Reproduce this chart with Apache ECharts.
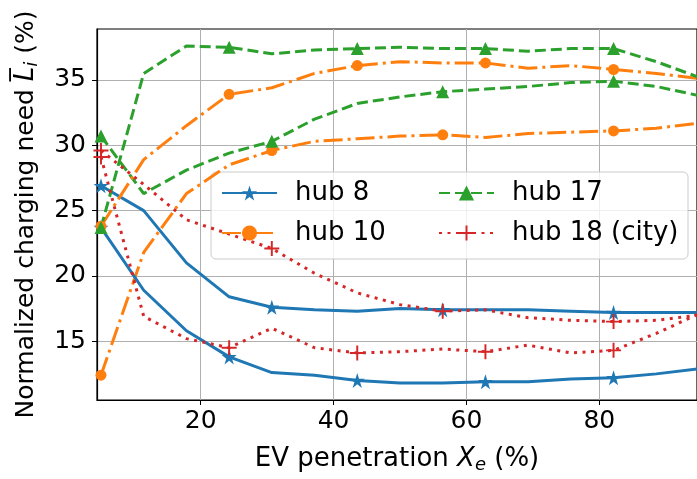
<!DOCTYPE html>
<html>
<head>
<meta charset="utf-8">
<title>Normalized charging need vs EV penetration</title>
<script src="https://cdn.jsdelivr.net/npm/echarts@6/dist/echarts.min.js"></script>
<style>
	html, body { margin: 0; padding: 0; background: #fff; }
	#chart { width: 697px; height: 479px; }
</style>
</head>
<body>
<div id="chart"></div>
<script>
'use strict';

// EV penetration X_e (%), the same steps for every curve
var penetration = [5, 11.43, 17.86, 24.29, 30.71, 37.14, 43.57, 50, 56.43, 62.86, 69.29, 75.71, 82.14, 88.57, 95];

// two curves per hub
var hub8_a  = [26.9, 25.0, 21.0, 18.4, 17.6, 17.4, 17.3, 17.5, 17.4, 17.4, 17.4, 17.3, 17.2, 17.2, 17.2];
var hub8_b  = [23.7, 18.9, 15.8, 13.8, 12.6, 12.4, 12.0, 11.8, 11.8, 11.9, 11.9, 12.1, 12.2, 12.5, 12.9];
var hub10_a = [12.4, 21.8, 26.3, 28.5, 29.6, 30.3, 30.5, 30.7, 30.8, 30.6, 30.9, 31.0, 31.1, 31.3, 31.7];
var hub10_b = [23.8, 28.9, 31.5, 33.9, 34.4, 35.5, 36.1, 36.4, 36.3, 36.3, 35.9, 36.1, 35.8, 35.5, 35.1];
var hub17_a = [30.7, 26.3, 28.1, 29.4, 30.3, 32.0, 33.2, 33.7, 34.1, 34.3, 34.5, 34.8, 34.9, 34.5, 33.8];
var hub17_b = [23.7, 35.5, 37.6, 37.5, 37.0, 37.3, 37.4, 37.5, 37.4, 37.4, 37.2, 37.4, 37.4, 36.4, 35.2];
var hub18_a = [29.6, 27.0, 24.3, 23.2, 22.1, 20.2, 18.7, 17.8, 17.3, 17.4, 16.8, 16.6, 16.5, 16.6, 17.0];
var hub18_b = [29.1, 16.9, 15.2, 14.5, 16.0, 14.5, 14.1, 14.2, 14.4, 14.2, 14.7, 14.1, 14.3, 15.6, 17.1];

var xTicks = [20, 40, 60, 80];
var yTicks = [15, 20, 25, 30, 35];
var legendLeft = ['hub 8', 'hub 10'];
var legendRight = ['hub 17', 'hub 18 (city)'];

var FONT = 'DejaVu Sans';
var STAR = 'path://M100,0L122.45,69.1L195.1,69.1L136.3,111.8L158.8,180.9L100,138.2L41.2,180.9L63.7,111.8L4.9,69.1L77.55,69.1Z';
var PLUS = 'path://M-1.3,-10H1.3V-1.3H10V1.3H1.3V10H-1.3V1.3H-10V-1.3H-1.3Z';

var looks = {
	'hub 8':         { color: '#1f77b4', dash: 'solid',       symbol: STAR,       size: 15 },
	'hub 10':        { color: '#ff7f0e', dash: [19, 5, 3, 5], symbol: 'circle',   size: 11 },
	'hub 17':        { color: '#2ca02c', dash: [11, 5],       symbol: 'triangle', size: 13 },
	'hub 18 (city)': { color: '#d62728', dash: [3, 5.5],      symbol: PLUS,       size: 15 }
};

// markers only on every 3rd or 4th point, like markevery
function curve(name, values, every) {
	var look = looks[name];
	return {
		type: 'line',
		name: name,
		data: values.map(function (v, i) {
			return { value: [penetration[i], v], symbol: i % every === 0 ? look.symbol : 'none' };
		}),
		symbol: look.symbol,
		symbolSize: look.size,
		showSymbol: true,
		itemStyle: { color: look.color },
		lineStyle: { color: look.color, width: 3, type: look.dash },
		emphasis: { disabled: true },
		silent: true,
		clip: true
	};
}

function legendAt(left, names) {
	return {
		data: names,
		orient: 'vertical',
		left: left,
		top: 179,
		padding: 0,
		itemGap: 12,
		itemWidth: 55,
		itemHeight: 19,
		selectedMode: false,
		textStyle: { fontFamily: FONT, fontSize: 26, color: '#000', lineHeight: 28, padding: [0, 0, 0, 13] }
	};
}

var nameRich = {
	it: { fontFamily: FONT, fontSize: 26, fontStyle: 'italic', color: '#000' },
	sub: { fontFamily: FONT, fontSize: 18, fontStyle: 'italic', color: '#000', padding: [11, 0, 0, 0] }
};

var chart = echarts.init(document.getElementById('chart'), null, { renderer: 'canvas' });

chart.setOption({
	animation: false,
	backgroundColor: '#fff',
	grid: { left: 97, right: -2, top: 29, bottom: 79, show: true, borderColor: '#000', borderWidth: 1.2 },
	xAxis: {
		type: 'value',
		min: 4.4,
		max: 94.7,
		name: 'EV penetration {it|X}{sub|e} (%)',
		nameLocation: 'middle',
		nameGap: 45,
		nameTextStyle: { fontFamily: FONT, fontSize: 26, color: '#000', rich: nameRich },
		axisLine: { show: true, lineStyle: { color: '#000', width: 1.2 } },
		axisTick: { show: true, length: 5, customValues: xTicks, lineStyle: { color: '#000' } },
		axisLabel: { customValues: xTicks, margin: 9, fontFamily: FONT, fontSize: 25, color: '#000' },
		splitLine: { show: true, lineStyle: { color: '#b0b0b0', width: 1 } }
	},
	yAxis: {
		type: 'value',
		min: 10.5,
		max: 38.9,
		name: 'Normalized charging need {it|L\u0305}{sub|i} (%)',
		nameLocation: 'middle',
		nameGap: 56,
		nameTextStyle: { fontFamily: FONT, fontSize: 25, color: '#000', rich: nameRich },
		axisLine: { show: true, lineStyle: { color: '#000', width: 1.2 } },
		axisTick: { show: true, length: 5, customValues: yTicks, lineStyle: { color: '#000' } },
		axisLabel: { customValues: yTicks, margin: 11, fontFamily: FONT, fontSize: 25, color: '#000' },
		splitLine: { show: true, lineStyle: { color: '#b0b0b0', width: 1 } }
	},
	legend: [legendAt(221, legendLeft), legendAt(438, legendRight)],
	graphic: [{
		type: 'rect',
		z: 3,
		silent: true,
		shape: { x: 211, y: 172, width: 477, height: 87, r: 5 },
		style: { fill: 'rgba(255,255,255,0.8)', stroke: '#cccccc', lineWidth: 1 }
	}],
	series: [
		curve('hub 8', hub8_a, 4),
		curve('hub 10', hub10_a, 4),
		curve('hub 17', hub17_a, 4),
		curve('hub 18 (city)', hub18_a, 4),
		curve('hub 8', hub8_b, 3),
		curve('hub 10', hub10_b, 3),
		curve('hub 17', hub17_b, 3),
		curve('hub 18 (city)', hub18_b, 3)
	]
});
</script>
</body>
</html>
